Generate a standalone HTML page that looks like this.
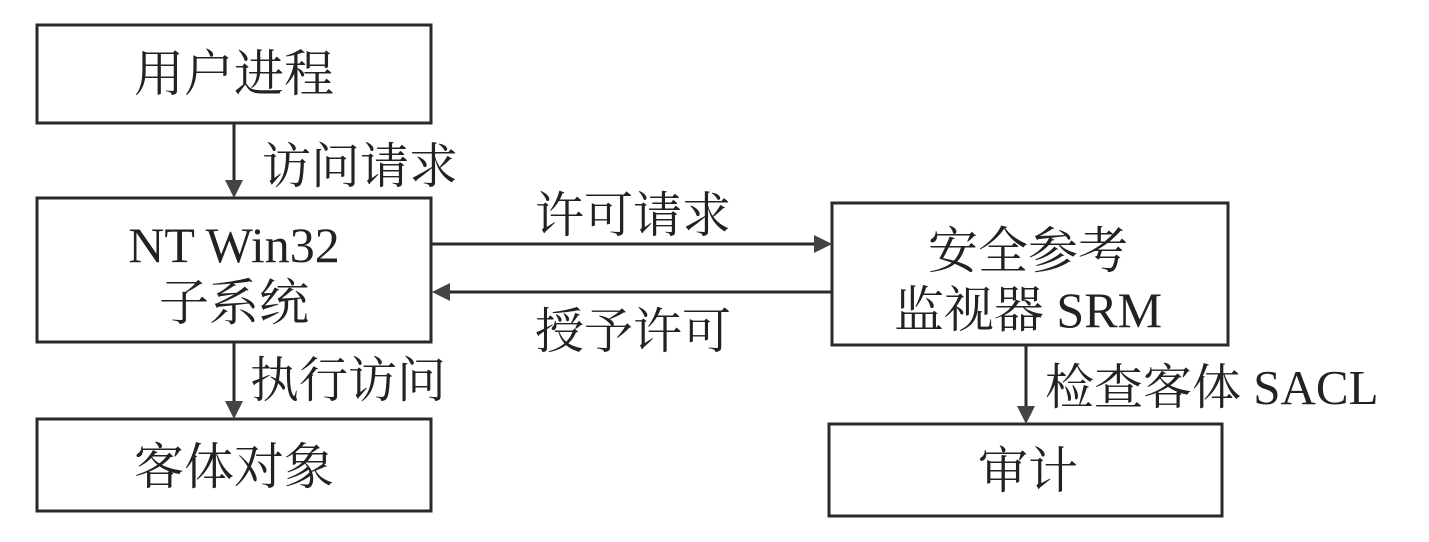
<!DOCTYPE html>
<html><head><meta charset="utf-8"><style>
html,body{margin:0;padding:0;background:#fff;}
svg{display:block;}
text{font-family:"Liberation Serif","Noto Serif CJK SC","Noto Sans CJK SC",serif;fill:#222;}
</style></head><body>
<svg width="1429" height="542" viewBox="0 0 1429 542" xmlns="http://www.w3.org/2000/svg">
<g fill="none" stroke="#2a2a2a" stroke-width="3">
<rect x="37" y="25" width="394" height="98"/>
<rect x="37" y="198" width="394" height="144"/>
<rect x="37" y="419" width="394" height="92"/>
<rect x="832" y="203" width="396" height="142"/>
<rect x="829" y="424" width="393" height="92"/>
<line x1="234" y1="123" x2="234" y2="182"/>
<line x1="234" y1="342" x2="234" y2="403"/>
<line x1="1026" y1="345" x2="1026" y2="408"/>
<line x1="432" y1="244" x2="816" y2="244"/>
<line x1="448" y1="292" x2="832" y2="292"/>
</g>
<g fill="#444">
<polygon points="225,180 243,180 234,198"/>
<polygon points="225,401 243,401 234,419"/>
<polygon points="1017,406 1035,406 1026,424"/>
<polygon points="814,235 814,253 832,244"/>
<polygon points="450,283 450,301 432,292"/>
</g>
<g font-size="50" text-anchor="middle">
<text x="234" y="91">用户进程</text>
<text x="234" y="262">NT Win32</text>
<text x="234" y="320">子系统</text>
<text x="234" y="484">客体对象</text>
<text x="1028" y="268">安全参考</text>
<text x="1028" y="327">监视器 SRM</text>
<text x="1028" y="488">审计</text>
</g>
<g font-size="49">
<text x="262" y="183">访问请求</text>
<text x="250" y="397">执行访问</text>
<text x="535" y="232">许可请求</text>
<text x="535" y="348">授予许可</text>
<text x="1045" y="404">检查客体 SACL</text>
</g>
</svg>
</body></html>
